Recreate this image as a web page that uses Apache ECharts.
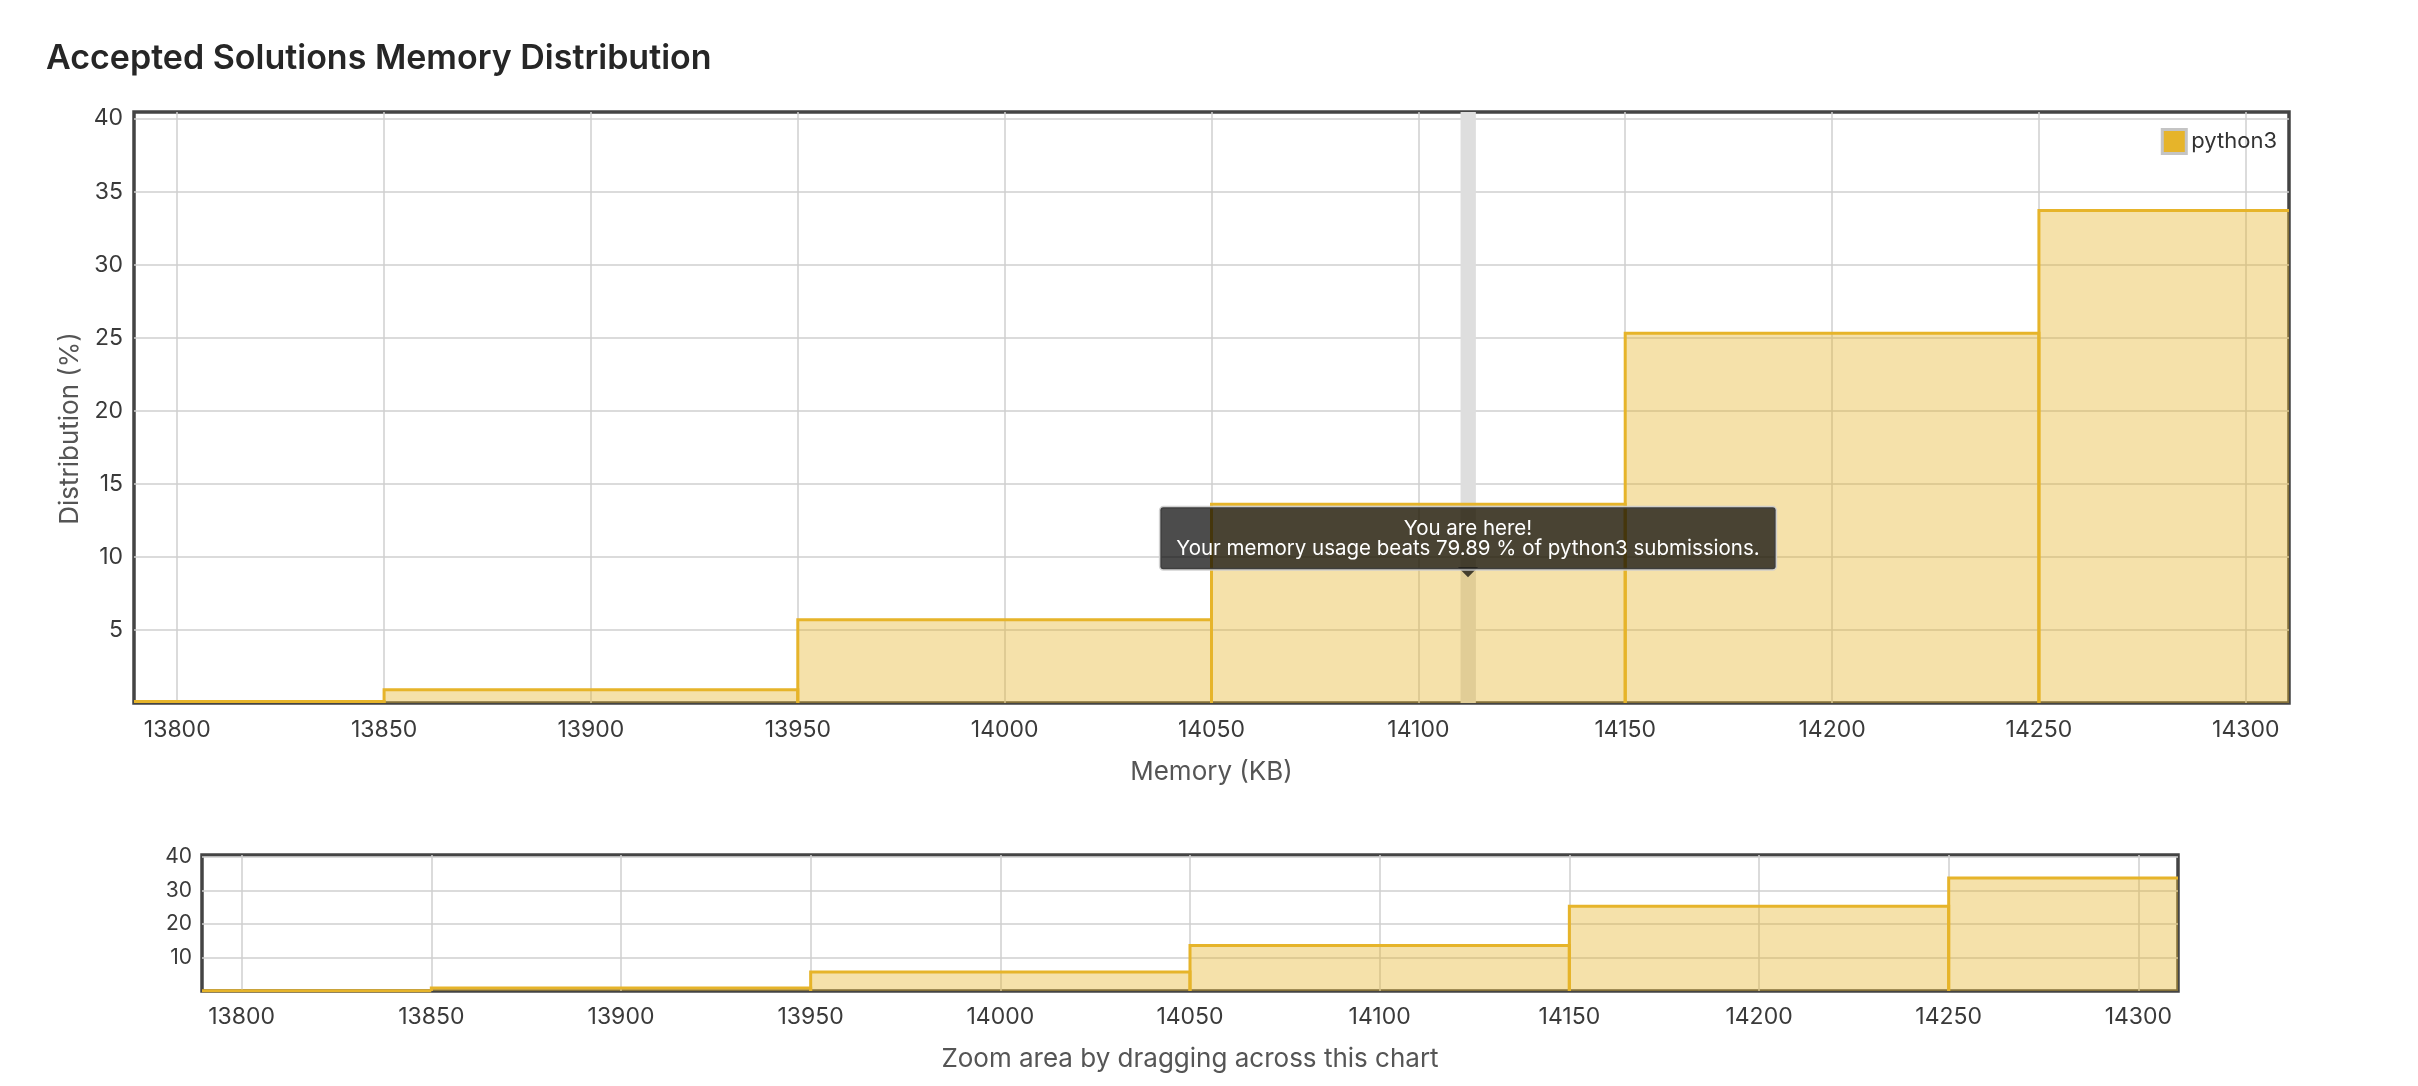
<!DOCTYPE html>
<html>
<head>
<meta charset="utf-8">
<script src="https://cdn.jsdelivr.net/npm/echarts@6/dist/echarts.min.js"></script>
<style>
  html, body { margin: 0; padding: 0; background: #ffffff; }
  #chart { width: 2418px; height: 1086px; }
</style>
</head>
<body>
<div id="chart"></div>
<script>
// ---- data ----
const binStarts = [13750, 13850, 13950, 14050, 14150, 14250];
const binWidth = 100;
const distribution = [0.1, 0.9, 5.7, 13.6, 25.3, 33.7];
const seriesName = 'python3';
const xRange = [13789.55, 14310.45];
const yMaxMain = 40.45;
const yMaxNav = 40.6;
const youAreHereX = 14112;
const youAreHereBand = [14110.2, 14113.9];
const youAreHereTipY = 8.6;
const tooltipLines = ['You are here!', 'Your memory usage beats 79.89 % of python3 submissions.'];
const titleText = 'Accepted Solutions Memory Distribution';
const xName = 'Memory (KB)';
const yName = 'Distribution (%)';
const navName = 'Zoom area by dragging across this chart';

const histData = binStarts.map((s, i) => [s, s + binWidth, distribution[i]]);

const FONT = 'Inter, "Noto Sans", "Liberation Sans", sans-serif';
const LINE = '#e6b42a';
const FILL = 'rgba(230,180,42,0.4)';
const GRIDC = '#cfcfcf';

function renderHist(params, api) {
  const cs = params.coordSys;
  const L = cs.x, R = cs.x + cs.width;
  const x0 = api.value(0), x1 = api.value(1), v = api.value(2);
  const pBase = api.coord([x0, 0]);
  const pTop = api.coord([x1, v]);
  const xa = pBase[0], xb = pTop[0], base = pBase[1], top = pTop[1];
  const xl = Math.max(xa, L), xr = Math.min(xb, R);
  if (xr <= xl) return null;
  const pts = [];
  if (xa >= L) { pts.push([xa, base]); pts.push([xa, top]); } else { pts.push([L, top]); }
  if (xb <= R) { pts.push([xb, top]); pts.push([xb, base]); } else { pts.push([R, top]); }
  return {
    type: 'group',
    children: [
      { type: 'rect', shape: { x: xl, y: top, width: xr - xl, height: base - top }, style: { fill: FILL } },
      { type: 'polyline', shape: { points: pts }, style: { stroke: LINE, lineWidth: 3, fill: null } }
    ]
  };
}

const xLabelFmt = v => (Math.abs(v - Math.round(v / 50) * 50) < 1e-6 ? String(Math.round(v)) : '');
const yLabelFmt = step => v => (v > 0 && Math.abs(v - Math.round(v / step) * step) < 1e-6 ? String(Math.round(v)) : '');
const splitLineStyle = { show: true, showMinLine: false, showMaxLine: false, lineStyle: { color: GRIDC, width: 1.5 } };

const chart = echarts.init(document.getElementById('chart'), null, { renderer: 'canvas' });
chart.setOption({
  backgroundColor: '#ffffff',
  animation: false,
  textStyle: { fontFamily: FONT },
  title: {
    text: titleText, left: 46, top: 42, padding: 0,
    textStyle: { fontFamily: FONT, fontSize: 34, fontWeight: 600, color: '#262626' }
  },
  legend: {
    data: [seriesName], right: 141, top: 128, padding: 0,
    icon: 'rect', itemWidth: 24, itemHeight: 24,
    itemStyle: { color: LINE, borderColor: '#c4c4c4', borderWidth: 3 },
    textStyle: { fontFamily: FONT, fontSize: 22, color: '#333' }
  },
  grid: [
    { left: 134, right: 129, top: 112, height: 591, show: true, borderColor: '#444', borderWidth: 3.5, backgroundColor: 'transparent' },
    { left: 202, right: 240, top: 855, height: 136, show: true, borderColor: '#444', borderWidth: 3.5, backgroundColor: 'transparent' }
  ],
  xAxis: [
    {
      type: 'value', gridIndex: 0, min: xRange[0], max: xRange[1], splitNumber: 10,
      axisLine: { show: false }, axisTick: { show: false },
      axisLabel: { formatter: xLabelFmt, fontSize: 23, color: '#3a3a3a', margin: 16, fontFamily: FONT },
      splitLine: splitLineStyle,
      name: xName, nameLocation: 'middle', nameGap: 56,
      nameTextStyle: { fontSize: 26, color: '#555', fontFamily: FONT }
    },
    {
      type: 'value', gridIndex: 1, min: xRange[0], max: xRange[1], splitNumber: 10,
      axisLine: { show: false }, axisTick: { show: false },
      axisLabel: { formatter: xLabelFmt, fontSize: 23, color: '#3a3a3a', margin: 15, fontFamily: FONT },
      splitLine: splitLineStyle,
      name: navName, nameLocation: 'middle', nameGap: 55,
      nameTextStyle: { fontSize: 26, color: '#555', fontFamily: FONT }
    }
  ],
  yAxis: [
    {
      type: 'value', gridIndex: 0, min: 0, max: yMaxMain, interval: 5,
      axisLine: { show: false }, axisTick: { show: false },
      axisLabel: { formatter: yLabelFmt(5), fontSize: 23, color: '#3a3a3a', margin: 11, fontFamily: FONT },
      splitLine: splitLineStyle,
      name: yName, nameLocation: 'middle', nameGap: 48,
      nameTextStyle: { fontSize: 26, color: '#555', fontFamily: FONT, padding: [0, 42, 0, 0] }
    },
    {
      type: 'value', gridIndex: 1, min: 0, max: yMaxNav, interval: 10,
      axisLine: { show: false }, axisTick: { show: false },
      axisLabel: { formatter: yLabelFmt(10), fontSize: 21, color: '#3a3a3a', margin: 10, fontFamily: FONT },
      splitLine: splitLineStyle
    }
  ],
  series: [
    {
      name: 'band', type: 'line', xAxisIndex: 0, yAxisIndex: 0, z: 1,
      data: [[youAreHereX, youAreHereTipY]], showSymbol: false, symbolSize: 0,
      lineStyle: { width: 0 }, silent: true,
      markArea: {
        silent: true,
        itemStyle: { color: '#dedede' },
        data: [[{ xAxis: youAreHereBand[0] }, { xAxis: youAreHereBand[1] }]]
      }
    },
    {
      name: seriesName, type: 'custom', xAxisIndex: 0, yAxisIndex: 0, z: 2,
      renderItem: renderHist, data: histData,
      itemStyle: { color: LINE }
    },
    {
      name: 'nav', type: 'custom', xAxisIndex: 1, yAxisIndex: 1, z: 2,
      renderItem: renderHist, data: histData,
      itemStyle: { color: LINE }
    },
    {
      name: 'tip', type: 'line', xAxisIndex: 0, yAxisIndex: 0, z: 10,
      data: [[youAreHereX, youAreHereTipY]], showSymbol: false, symbolSize: 0,
      lineStyle: { width: 0 }, silent: true,
      markPoint: {
        silent: true,
        data: [{
          coord: [youAreHereX, youAreHereTipY],
          symbol: 'triangle', symbolRotate: 180, symbolSize: [20, 10], symbolOffset: [0, -5],
          itemStyle: { color: 'rgba(0,0,0,0.7)' },
          label: {
            show: true, position: 'top', distance: -2,
            formatter: tooltipLines.join('\n'),
            color: '#ffffff', fontSize: 20.5, lineHeight: 20, fontFamily: FONT, align: 'center',
            backgroundColor: 'rgba(0,0,0,0.7)', borderColor: 'rgba(205,205,205,0.9)', borderWidth: 1.5,
            borderRadius: 3, padding: [11, 16, 11, 16]
          }
        }]
      }
    }
  ]
});
</script>
</body>
</html>
